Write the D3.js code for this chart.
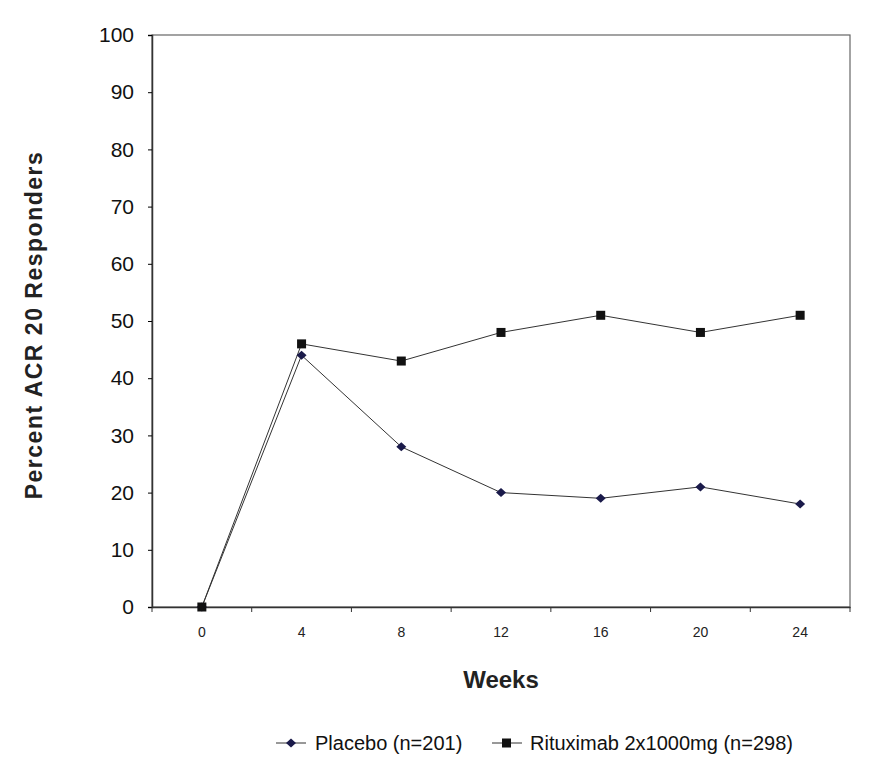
<!DOCTYPE html>
<html><head><meta charset="utf-8">
<script src="https://cdn.jsdelivr.net/npm/d3@7"></script>
<style>body{margin:0;background:#fff}</style>
</head><body><div id="chart"></div>
<script>
const weeks = ['0', '4', '8', '12', '16', '20', '24'];
const placebo = [0, 44, 28, 20, 19, 21, 18];
const rituximab = [0, 46, 43, 48, 51, 48, 51];
const yTicks = [0, 10, 20, 30, 40, 50, 60, 70, 80, 90, 100];

const W = 869, H = 775;
const m = {left: 152, top: 35, right: 19, bottom: 168};
const narrow = 'Liberation Sans Narrow, Arial Narrow, Liberation Sans, sans-serif';

const svg = d3.select('#chart').append('svg').attr('width', W).attr('height', H)
	.style('font-family', 'Liberation Sans, Arial, sans-serif');

const x = d3.scaleBand().domain(weeks).range([m.left, W - m.right]);
const y = d3.scaleLinear().domain([0, 100]).range([H - m.bottom, m.top]);

// 外框
svg.append('rect')
	.attr('x', m.left).attr('y', m.top)
	.attr('width', W - m.right - m.left).attr('height', H - m.bottom - m.top)
	.attr('fill', 'none').attr('stroke', '#666').attr('stroke-width', 1.2);

// y轴
const ya = svg.append('g').attr('transform', `translate(${m.left},0)`)
	.call(d3.axisLeft(y).tickValues(yTicks).tickSize(4).tickPadding(14));
ya.selectAll('text').attr('font-size', 21).attr('font-family', narrow).attr('fill', '#111');

// x轴
const xa = svg.append('g').attr('transform', `translate(0,${H - m.bottom})`)
	.call(d3.axisBottom(x).tickSize(0).tickPadding(20));
xa.selectAll('text').attr('font-size', 14).attr('fill', '#222');
xa.selectAll('.cat-tick').data(weeks.concat([''])).enter().append('line')
	.attr('x1', (d, i) => m.left + i * x.step()).attr('x2', (d, i) => m.left + i * x.step())
	.attr('y1', 0).attr('y2', 5).attr('stroke', '#333');
svg.selectAll('.domain').attr('stroke', '#333').attr('stroke-width', 1.5);

const cx = (d, i) => x(weeks[i]) + x.bandwidth() / 2;
const line = d3.line().x(cx).y(d => y(d));

// 线
svg.append('path').datum(placebo).attr('d', line)
	.attr('fill', 'none').attr('stroke', '#333').attr('stroke-width', 1);
svg.append('path').datum(rituximab).attr('d', line)
	.attr('fill', 'none').attr('stroke', '#333').attr('stroke-width', 1);

// 标记
const diamond = 'M0,-4.5L5,0L0,4.5L-5,0Z';
svg.selectAll('.pl').data(placebo).enter().append('path')
	.attr('d', diamond)
	.attr('transform', (d, i) => `translate(${cx(d, i)},${y(d)})`)
	.attr('fill', '#1a1a4a');
svg.selectAll('.rx').data(rituximab).enter().append('rect')
	.attr('x', (d, i) => cx(d, i) - 4.5).attr('y', d => y(d) - 4.5)
	.attr('width', 9).attr('height', 9).attr('fill', '#111');

// 标题
svg.append('text').attr('x', 501).attr('y', 688).attr('text-anchor', 'middle')
	.attr('font-size', 24).attr('font-weight', 'bold').attr('fill', '#222').text('Weeks');
svg.append('text').attr('transform', 'translate(42,325) rotate(-90)').attr('text-anchor', 'middle')
	.attr('font-size', 23).attr('font-weight', 'bold').attr('letter-spacing', 1.5).attr('fill', '#222')
	.text('Percent ACR 20 Responders');

// 图例
const lg = svg.append('g').attr('transform', 'translate(0,743)');
lg.append('line').attr('x1', 276).attr('x2', 306).attr('stroke', '#333');
lg.append('path').attr('d', diamond).attr('transform', 'translate(291,0)').attr('fill', '#1a1a4a');
lg.append('text').attr('x', 315).attr('y', 7).attr('font-size', 20).attr('font-family', narrow).attr('fill', '#111').text('Placebo (n=201)');
lg.append('line').attr('x1', 492).attr('x2', 522).attr('stroke', '#333');
lg.append('rect').attr('x', 502).attr('y', -4.5).attr('width', 9).attr('height', 9).attr('fill', '#111');
lg.append('text').attr('x', 530).attr('y', 7).attr('font-size', 20).attr('font-family', narrow).attr('fill', '#111').text('Rituximab 2x1000mg (n=298)');
</script></body></html>
